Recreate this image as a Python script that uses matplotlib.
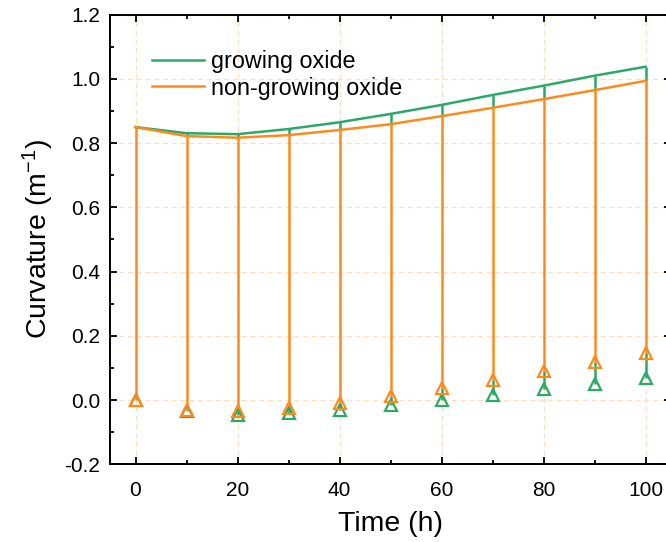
import matplotlib
matplotlib.use("Agg")
import matplotlib.pyplot as plt
from matplotlib.ticker import MultipleLocator

plt.rcParams['font.family'] = ['Liberation Sans', 'DejaVu Sans']
plt.rcParams['mathtext.default'] = 'regular'

time_h = [0, 10, 20, 30, 40, 50, 60, 70, 80, 90, 100]

# curvature of the curved sample
growing_top = [0.850, 0.831, 0.828, 0.844, 0.865, 0.891, 0.919, 0.950, 0.979, 1.010, 1.038]
nongrowing_top = [0.850, 0.822, 0.817, 0.825, 0.841, 0.859, 0.884, 0.910, 0.937, 0.965, 0.994]

# curvature of the initially flat sample
growing_bottom = [0.000, -0.035, -0.045, -0.040, -0.030, -0.016, 0.000, 0.016, 0.033, 0.050, 0.068]
nongrowing_bottom = [0.000, -0.030, -0.035, -0.025, -0.010, 0.014, 0.037, 0.063, 0.090, 0.117, 0.146]

labels = ['growing oxide', 'non-growing oxide']
green = '#2BA968'
orange = '#FF8A1C'
grid_c = '#FDDDBE'
lw = 1.8

fig = plt.figure(figsize=(6.66, 5.42), dpi=100)
ax = fig.add_axes([110 / 666, (542 - 464.3) / 542, 561 / 666, 449.6 / 542])

# drop lines: the green ones only show where they extend past the orange ones
ax.vlines(time_h, nongrowing_top, growing_top, colors=green, linewidth=lw, zorder=2)
ax.vlines(time_h, growing_bottom, nongrowing_bottom, colors=green, linewidth=lw, zorder=2)
ax.vlines(time_h, nongrowing_bottom, nongrowing_top, colors=orange, linewidth=lw, zorder=2.5)

ax.plot(time_h, growing_top, color=green, linewidth=lw, label=labels[0], zorder=3)
ax.plot(time_h, nongrowing_top, color=orange, linewidth=lw, label=labels[1], zorder=3.5)
ax.plot(time_h, growing_bottom, linestyle='none', marker='^', markersize=9,
        markerfacecolor='none', markeredgecolor=green, markeredgewidth=1.6, zorder=4)
ax.plot(time_h, nongrowing_bottom, linestyle='none', marker='^', markersize=9,
        markerfacecolor='none', markeredgecolor=orange, markeredgewidth=1.6, zorder=4.5)

ax.set_xlim(-5, 105)
ax.set_ylim(-0.2, 1.2)
ax.xaxis.set_major_locator(MultipleLocator(20))
ax.xaxis.set_minor_locator(MultipleLocator(10))
ax.yaxis.set_major_locator(MultipleLocator(0.2))
ax.yaxis.set_minor_locator(MultipleLocator(0.1))
ax.yaxis.set_major_formatter(plt.FuncFormatter(lambda v, p: f'{v:.1f}'))

ax.tick_params(which='both', direction='in', top=True, right=True,
               width=1.3, labelsize=15)
ax.tick_params(axis='x', which='both', pad=12)
ax.tick_params(axis='y', which='both', pad=7)
ax.tick_params(which='major', length=5)
ax.tick_params(which='minor', length=3)
for s in ax.spines.values():
    s.set_linewidth(1.4)

ax.grid(True, which='major', color=grid_c, linestyle=(0, (4, 3)), linewidth=0.9, zorder=0)
ax.set_axisbelow(True)

ax.set_xlabel('Time (h)', fontsize=20.5, labelpad=8)
ax.set_ylabel('Curvature (m$^{-1}$)', fontsize=20.5, labelpad=6)

ax.legend(loc='upper left', bbox_to_anchor=(0.058, 0.942), frameon=False,
          fontsize=16.8, handlelength=2.25, handletextpad=0.3, labelspacing=0.15,
          borderaxespad=0)

fig.savefig('out.png', dpi=100)
